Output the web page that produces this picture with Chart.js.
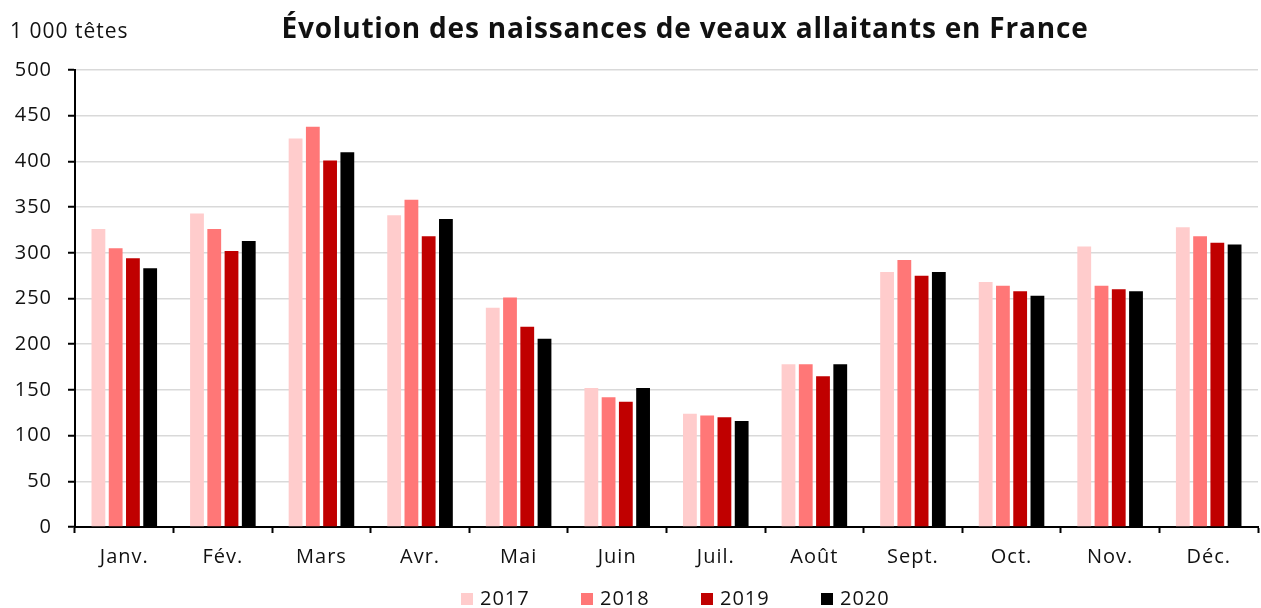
<!DOCTYPE html>
<html>
<head>
<meta charset="utf-8">
<script src="https://cdn.jsdelivr.net/npm/chart.js@4.4.1/dist/chart.umd.min.js"></script>
<style>
  html, body { margin: 0; padding: 0; background: #fff; }
  #wrap { width: 1261px; height: 608px; }
</style>
</head>
<body>
<div id="wrap"><canvas id="barchart" width="1261" height="608"></canvas></div>
<script>
const months = ["Janv.", "Fév.", "Mars", "Avr.", "Mai", "Juin", "Juil.", "Août", "Sept.", "Oct.", "Nov.", "Déc."];
const years = ["2017", "2018", "2019", "2020"];
const v2017 = [326, 343, 425, 341, 240, 152, 124, 178, 279, 268, 307, 328];
const v2018 = [305, 326, 438, 358, 251, 142, 122, 178, 292, 264, 264, 318];
const v2019 = [294, 302, 401, 318, 219, 137, 120, 165, 275, 258, 260, 311];
const v2020 = [283, 313, 410, 337, 206, 152, 116, 178, 279, 253, 258, 309];
const colors = ["#FFCCCC", "#FF7777", "#C00000", "#000000"];

const FONT = "'Open Sans', 'Noto Sans', sans-serif";

// title, unit and legend drawn on the canvas
const headerPlugin = {
    id: "header",
    beforeDraw(chart) {
        chart.ctx.letterSpacing = "1px";
    },
    afterDraw(chart) {
        const ctx = chart.ctx;
        ctx.save();
        ctx.fillStyle = "#111";
        ctx.textBaseline = "middle";
        ctx.letterSpacing = "0.8px";
        ctx.font = "bold 28px " + FONT;
        ctx.textAlign = "center";
        ctx.fillText("Évolution des naissances de veaux allaitants en France", 685, 30);
        ctx.letterSpacing = "1px";
        ctx.font = "21px " + FONT;
        ctx.textAlign = "left";
        ctx.fillText("1 000 têtes", 10, 32);
        // legend
        ctx.font = "20px " + FONT;
        chart.data.datasets.forEach((ds, i) => {
            const x = 461 + i * 120;
            ctx.fillStyle = ds.backgroundColor;
            ctx.fillRect(x, 593, 12, 12);
            ctx.fillStyle = "#111";
            ctx.fillText(ds.label, x + 19, 599);
        });
        ctx.restore();
        ctx.letterSpacing = "0px";
    }
};

const ctx = document.getElementById("barchart");
new Chart(ctx, {
    type: "bar",
    data: {
        labels: months,
        datasets: [
            {label: years[0], data: v2017, backgroundColor: colors[0]},
            {label: years[1], data: v2018, backgroundColor: colors[1]},
            {label: years[2], data: v2019, backgroundColor: colors[2]},
            {label: years[3], data: v2020, backgroundColor: colors[3]}
        ]
    },
    options: {
        responsive: false,
        animation: false,
        devicePixelRatio: 1,
        categoryPercentage: 0.70,
        barPercentage: 0.80,
        layout: {padding: {top: 70, left: 0, right: 3, bottom: 31}},
        plugins: {
            legend: {display: false},
            title: {display: false},
            tooltip: {enabled: false}
        },
        scales: {
            x: {
                grid: {
                    offset: true,
                    drawOnChartArea: false,
                    drawTicks: true,
                    tickLength: 6,
                    tickColor: "#000",
                    tickWidth: 2
                },
                border: {color: "#000", width: 2},
                ticks: {
                    color: "#111",
                    font: {family: FONT, size: 20},
                    padding: 12,
                    maxRotation: 0
                },
                afterFit(scale) { scale.height = 50; }
            },
            y: {
                min: 0,
                max: 500,
                ticks: {
                    stepSize: 50,
                    color: "#111",
                    font: {family: FONT, size: 20},
                    padding: 16
                },
                grid: {
                    color: "#d9d9d9",
                    lineWidth: 1.5,
                    tickLength: 7,
                    tickColor: "#000",
                    tickWidth: 2
                },
                border: {color: "#000", width: 2},
                afterFit(scale) { scale.width = 75; }
            }
        }
    },
    plugins: [headerPlugin]
});
</script>
</body>
</html>
